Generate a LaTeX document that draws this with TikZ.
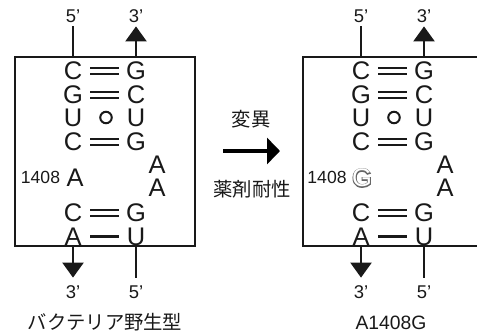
\documentclass[tikz,border=0pt]{standalone}
\usepackage{fontspec}
\setmainfont{Liberation Sans}
\newfontfamily\jpfont{Noto Sans CJK JP}
\newfontface\fatfont[FakeBold=7]{Liberation Sans}
\usetikzlibrary{arrows.meta}
\tikzset{
    base/.style={minimum width=0.68cm,inner sep=0pt,font=\fontsize{14.5}{14.5}\selectfont,text=black!90},
    endlabel/.style={inner sep=0.07cm,font=\fontsize{10.5}{10.5}\selectfont,text=black!90},
    numlabel/.style={inner sep=0pt,font=\fontsize{10}{10}\selectfont,text=black!90},
    caption/.style={inner sep=0pt,font=\fontsize{11}{11}\selectfont,text=black!90},
    stem/.style={line width=0.045cm,black!90},
    stemarrow/.style={stem,-{Triangle[length=0.3cm,width=0.42cm]}},
    pairbond/.style={line width=0.04cm,double,double distance=0.08cm,black!90},
    singlebond/.style={line width=0.045cm,black!90},
    wobble/.style={circle,draw=black!90,line width=0.04cm,minimum size=0.23cm,inner sep=0pt}
}
\begin{document}
\begin{tikzpicture}
        \useasboundingbox (0,0) rectangle (9.54,6.66);
        \node[draw=black!90,line width=0.05cm,minimum width=3.6cm,minimum height=3.78cm,inner sep=0pt,outer sep=0pt] (lbox) at (2.10,3.63) {};
        \coordinate (rtopend) at (9.54,5.52);
        \coordinate (rbottomend) at (9.54,1.74);
        \coordinate (rtop) at (6.06,5.52);
        \coordinate (rbottom) at (6.06,1.74);
        \draw[line width=0.05cm,black!90] (rtopend) -- (rtop) -- (rbottom) -- (rbottomend);
        \foreach \side/\dx in {l/0,r/5.76} {
            \begin{scope}[xshift=\dx cm]
                \foreach \n/\a/\b/\y/\bond in {1/C/G/5.25/pairbond,2/G/C/4.77/pairbond,4/C/G/3.83/pairbond,5/C/G/2.41/pairbond,6/A/U/1.93/singlebond} {
                    \node[base] (\side\n a) at (1.46,\y) {\a};
                    \node[base] (\side\n b) at (2.72,\y) {\b};
                    \draw[\bond] (\side\n a) -- (\side\n b);
                }
                \node[base] (\side 3a) at (1.46,4.31) {U};
                \node[base] (\side 3b) at (2.72,4.31) {U};
                \node[wobble] (\side wob) at (2.12,4.31) {};
                \node[base] (\side loopa) at (3.14,3.36) {A};
                \node[base] (\side loopb) at (3.14,2.90) {A};
                \node[endlabel] (\side tfive) at (1.46,6.34) {5'};
                \node[endlabel] (\side tthree) at (2.72,6.34) {3'};
                \node[endlabel] (\side bthree) at (1.46,0.82) {3'};
                \node[endlabel] (\side bfive) at (2.72,0.82) {5'};
            \end{scope}
        }
        \node[numlabel] (lnum) at (0.81,3.12) {1408};
        \node[base] (lmut) at (1.50,3.10) {A};
        \node[numlabel] (rnum) at (6.54,3.12) {1408};
        \node[base,text=black!60] (rmutback) at (7.24,3.10) {\fatfont G};
        \node[base,text=white] (rmut) at (7.24,3.10) {G};
        \foreach \side/\boxtop/\boxbottom in {l/lbox.north/lbox.south,r/rtop/rbottom} {
            \draw[stem] (\side tfive.south) -- (\side tfive.south |- \boxtop);
            \draw[stemarrow] (\side tthree.south |- \boxtop) -- (\side tthree.south);
            \draw[stemarrow,shorten >=0.08cm] (\side bthree.north |- \boxbottom) -- (\side bthree.north);
            \draw[stem,shorten >=0.08cm] (\side bfive.north |- \boxbottom) -- (\side bfive.north);
        }
        \node[caption] (change) at (5.02,4.28) {\jpfont 変異};
        \node[caption] (resist) at (5.04,2.88) {\jpfont 薬剤耐性};
        \coordinate (mutstart) at (4.46,3.64);
        \coordinate (mutend) at (5.60,3.64);
        \draw[line width=0.07cm,black,-{Triangle[length=0.26cm,width=0.52cm]}] (mutstart) -- (mutend);
        \node[caption] (wildname) at (2.10,0.22) {\jpfont バクテリア野生型};
        \node[caption] (mutname) at (7.82,0.20) {A1408G};
    \end{tikzpicture}
\end{document}
